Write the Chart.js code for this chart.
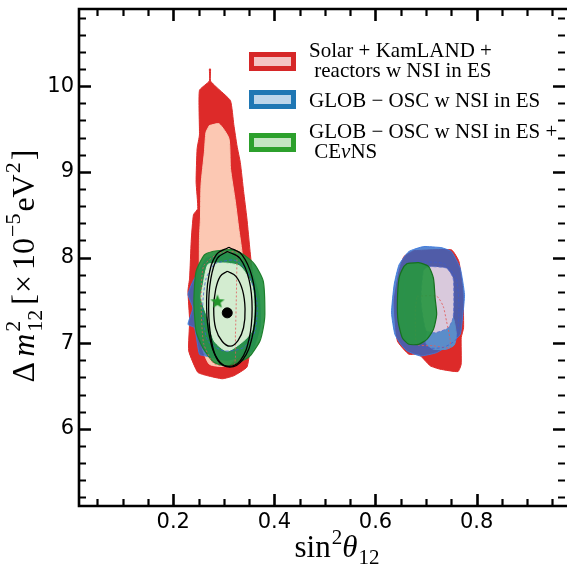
<!DOCTYPE html>
<html>
<head>
<meta charset="utf-8">
<script src="https://cdn.jsdelivr.net/npm/chart.js@4.4.0/dist/chart.umd.min.js"></script>
<style>
  html, body { margin: 0; padding: 0; background: #fff; }
  #wrap { width: 574px; height: 566px; }
</style>
</head>
<body>
<div id="wrap"><canvas id="c" width="574" height="566"></canvas></div>
<script>
// axis limits and ticks
const xRange = [0.0136, 0.9748];
const yRange = [5.1, 10.9];
const xMajorTicks = [0.2, 0.4, 0.6, 0.8];
const xMinorTicks = [0.05, 0.1, 0.15, 0.25, 0.3, 0.35, 0.45, 0.5, 0.55, 0.65, 0.7, 0.75, 0.85, 0.9, 0.95];
const yMajorTicks = [6, 7, 8, 9, 10];
const yMinorTicks = [5.2, 5.4, 5.6, 5.8, 6.2, 6.4, 6.6, 6.8, 7.2, 7.4, 7.6, 7.8, 8.2, 8.4, 8.6, 8.8,
                     9.2, 9.4, 9.6, 9.8, 10.2, 10.4, 10.6, 10.8];

// contours, [sin^2 theta12, dm2_12]
// left solution (LMA)
const redOuterL = [[0.2714,10.20],[0.2738,10.20],[0.2738,10.06],[0.2907,9.96],[0.3132,9.83],[0.3198,9.55],
  [0.3262,9.30],[0.3326,9.11],[0.3392,8.77],[0.3456,8.46],[0.3520,8.07],[0.3586,7.68],[0.3586,7.30],
  [0.3515,6.91],[0.3456,6.72],[0.3198,6.62],[0.2971,6.585],[0.2680,6.62],[0.2485,6.66],[0.2306,6.91],
  [0.2324,7.26],[0.2291,7.61],[0.2324,7.76],[0.2355,8.19],[0.2400,8.50],[0.2485,8.57],[0.2452,8.88],
  [0.2472,9.27],[0.2518,9.43],[0.2518,9.95],[0.2714,10.06],[0.2714,10.20]];
const pinkL = [[0.2713,9.54],[0.2907,9.56],[0.3101,9.39],[0.3132,9.04],[0.3229,8.65],[0.3295,8.34],
  [0.3359,8.07],[0.3420,7.70],[0.3480,7.30],[0.3420,6.95],[0.3068,6.736],[0.2713,6.755],[0.2550,7.00],
  [0.2518,7.50],[0.2518,8.22],[0.2538,8.46],[0.2550,8.85],[0.2616,9.23],[0.2647,9.46],[0.2713,9.54]];
const blueOuterL = [[0.2647,7.99],[0.3068,8.05],[0.3500,7.90],[0.3700,7.55],[0.3720,7.20],[0.3550,6.90],
  [0.3068,6.80],[0.2647,6.85],[0.2518,6.87],[0.2421,7.18],[0.2291,7.22],[0.2388,7.41],[0.2291,7.57],
  [0.2388,7.72],[0.2647,7.99]];
const greenOuterL = [[0.3004,8.089],[0.3198,8.089],[0.3392,8.031],[0.3617,7.915],[0.3781,7.722],
  [0.3812,7.34],[0.3781,7.18],[0.3715,7.026],[0.3520,6.851],[0.3359,6.793],[0.3068,6.736],[0.2810,6.774],
  [0.2583,6.948],[0.2452,7.142],[0.2408,7.49],[0.2452,7.838],[0.2616,8.031],[0.2777,8.07],[0.3004,8.089]];
const greenInnerL = [[0.2810,7.934],[0.3068,7.934],[0.3326,7.896],[0.3553,7.683],[0.3598,7.412],
  [0.3553,7.142],[0.3392,7.026],[0.3068,6.909],[0.2810,7.026],[0.2680,7.296],[0.2550,7.528],[0.2583,7.66],
  [0.2680,7.915],[0.2810,7.934]];
const redLineL = [[0.3262,8.07],[0.3250,7.60],[0.3230,7.10],[0.3200,6.74],[0.2810,6.76],[0.2600,7.00],
  [0.2550,7.50],[0.2600,7.90],[0.2900,8.05],[0.3262,8.07]];
const blueLineL = [[0.2810,7.93],[0.3198,7.97],[0.3450,7.85],[0.3650,7.50],[0.3617,7.14],[0.3392,6.95],
  [0.3004,6.91],[0.2680,7.03],[0.2583,7.40],[0.2647,7.75],[0.2810,7.93]];
// CEvNS-only contours (black)
const ellOuter = [[0.310,8.12],[0.336,8.03],[0.356,7.77],[0.363,7.42],[0.356,7.07],[0.338,6.81],[0.312,6.72],
  [0.288,6.81],[0.272,7.07],[0.266,7.42],[0.270,7.77],[0.285,8.03],[0.310,8.12]];
const ellMid = [[0.307,8.07],[0.332,7.99],[0.350,7.74],[0.356,7.40],[0.350,7.05],[0.333,6.80],[0.310,6.73],
  [0.288,6.80],[0.275,7.05],[0.270,7.40],[0.274,7.74],[0.287,7.99],[0.307,8.07]];
const ellInner = [[0.307,7.84],[0.324,7.78],[0.337,7.62],[0.342,7.40],[0.339,7.18],[0.328,7.03],[0.313,6.965],
  [0.297,7.02],[0.284,7.17],[0.280,7.40],[0.284,7.63],[0.293,7.78],[0.307,7.84]];
// right solution (dark side)
const redOuterR = [[0.6757,8.08],[0.7501,8.089],[0.7650,7.954],[0.7728,7.606],[0.7742,7.18],[0.7695,7.064],
  [0.7695,6.755],[0.7631,6.669],[0.7276,6.697],[0.7082,6.736],[0.6854,6.871],[0.6660,6.871],[0.6433,7.026],
  [0.6369,7.49],[0.6466,7.838],[0.6563,8.012],[0.6757,8.08]];
const blueOuterR = [[0.7307,8.116],[0.6951,8.128],[0.6660,8.070],[0.6466,7.915],[0.6369,7.683],[0.6317,7.354],
  [0.6383,7.103],[0.6499,6.987],[0.6627,6.909],[0.6887,6.851],[0.7210,6.890],[0.7470,6.987],[0.7676,7.103],
  [0.7728,7.335],[0.7761,7.567],[0.7676,7.876],[0.7501,8.070],[0.7307,8.116]];
const blueMidR = [[0.7049,7.20],[0.7437,7.18],[0.7534,7.30],[0.7600,7.10],[0.7560,6.98],[0.7404,6.93],
  [0.7146,6.93],[0.7000,7.00],[0.7049,7.20]];
const lavenderR = [[0.7049,7.896],[0.7404,7.876],[0.7534,7.760],[0.7548,7.509],[0.7534,7.296],[0.7437,7.180],
  [0.7179,7.122],[0.7000,7.15],[0.6900,7.50],[0.6950,7.85],[0.7049,7.896]];
const greenR = [[0.6627,7.93],[0.6854,7.94],[0.7049,7.896],[0.7146,7.760],[0.7179,7.528],[0.7210,7.335],
  [0.7146,7.161],[0.7016,7.045],[0.6854,6.987],[0.6660,6.987],[0.6530,7.064],[0.6447,7.258],[0.6433,7.49],
  [0.6466,7.760],[0.6563,7.896],[0.6627,7.93]];
const redLineR = [[0.6821,7.548],[0.7210,7.548],[0.7340,7.43],[0.7404,7.258],[0.7470,7.064],[0.7470,6.948],
  [0.7146,6.97],[0.6821,6.987],[0.6790,7.20],[0.6790,7.41],[0.6821,7.548]];
const blueLineR = [[0.6757,7.95],[0.7340,7.93],[0.7600,7.75],[0.7650,7.40],[0.7600,7.05],[0.7340,6.95],
  [0.6950,6.95],[0.6660,7.10],[0.6563,7.40],[0.6596,7.75],[0.6757,7.95]];
// best fit points
const bestFitCevns = [[0.3068, 7.354]];
const bestFitGlob = [[0.2874, 7.489]];

const legendLines = [
  ['Solar + KamLAND +', ' reactors w NSI in ES'],
  ['GLOB \u2212 OSC w NSI in ES'],
  ['GLOB \u2212 OSC w NSI in ES +', ' CE\u03bdNS']
];

const pts = arr => arr.map(([x, y]) => ({x, y}));

function area(data, fillColor, lineColor, width, tension, dash) {
  return {
    data: pts(data), backgroundColor: fillColor, borderColor: lineColor, borderWidth: width,
    fill: fillColor ? 'shape' : false, pointRadius: 0, tension: tension, borderDash: dash || [],
    borderJoinStyle: 'round'
  };
}

const starImg = document.createElement('canvas');
starImg.width = 16; starImg.height = 16;
(function () {
  const g = starImg.getContext('2d');
  g.beginPath();
  for (let i = 0; i < 10; i++) {
    const r = i % 2 ? 3.2 : 7.5, a = -Math.PI / 2 + i * Math.PI / 5;
    g.lineTo(8 + r * Math.cos(a), 8.5 + r * Math.sin(a));
  }
  g.closePath();
  g.fillStyle = '#22962a';
  g.fill();
})();

// bottom layer first
const layers = [
  area(redOuterL, '#dd2a29', '#dd2a29', 1, 0.15),
  area(pinkL, '#fcc8b3', '#fcc8b3', 1, 0.2),
  area(redOuterR, '#dd2a29', '#dd2a29', 1, 0.15),
  area(blueOuterL, 'rgba(45,105,200,0.8)', 'rgba(60,120,220,0.9)', 1, 0.15),
  area(blueOuterR, 'rgba(45,105,200,0.8)', 'rgba(60,120,220,0.9)', 1, 0.15),
  area(blueMidR, '#5b8dc9', '#5b8dc9', 1, 0.2),
  area(lavenderR, '#d9c9dc', 'rgba(90,110,210,0.8)', 1, 0.2, [3, 2]),
  area(redLineR, null, 'rgba(225,90,90,0.85)', 1, 0.2, [2, 2]),
  area(blueLineR, null, 'rgba(60,90,210,0.7)', 1, 0.2, [3, 2]),
  area(greenOuterL, 'rgba(35,145,65,0.92)', '#1d7f2c', 1.2, 0.2),
  area(greenR, 'rgba(40,150,65,0.92)', '#16701f', 1.2, 0.2),
  area(greenInnerL, '#d3ecd0', '#d3ecd0', 1, 0.25),
  area(redLineL, null, 'rgba(225,90,90,0.8)', 1, 0.2, [2, 2]),
  area(blueLineL, null, 'rgba(60,90,220,0.75)', 1, 0.25, [3, 2]),
  area(ellOuter, null, '#000', 1.3, 0.4),
  area(ellMid, null, '#000', 1.3, 0.4),
  area(ellInner, null, '#000', 1.3, 0.4),
  {data: pts(bestFitCevns), pointRadius: 5, pointBackgroundColor: '#000', pointBorderColor: '#000',
   showLine: false},
  {data: pts(bestFitGlob), pointStyle: starImg, pointRadius: 8, showLine: false}
];
layers.forEach((d, i) => { d.order = layers.length - i; });

function drawRuns(ctx, runs, x, y) {
  let cx = x, stackW = 0;
  runs.forEach(r => {
    ctx.font = r.f;
    ctx.fillText(r.t, cx, y + (r.dy || 0));
    const w = ctx.measureText(r.t).width;
    if (r.stack) { stackW = w; return; }
    cx += Math.max(w, stackW) + (r.sp || 0);
    stackW = 0;
  });
  return cx - x;
}
function runsWidth(ctx, runs) {
  let w = 0, stackW = 0;
  runs.forEach(r => {
    ctx.font = r.f;
    const m = ctx.measureText(r.t).width;
    if (r.stack) { stackW = m; return; }
    w += Math.max(m, stackW) + (r.sp || 0);
    stackW = 0;
  });
  return w;
}

const SERIF = '"Liberation Serif", serif';
const yBig = '32px ' + SERIF, yIt = 'italic 32px ' + SERIF, ySmall = '22px ' + SERIF;
const xBig = '31px ' + SERIF, xIt = 'italic 31px ' + SERIF, xSmall = '21px ' + SERIF;
const yTitle = [
  {t: '\u0394', f: yBig, sp: 5}, {t: 'm', f: yIt, sp: 2},
  {t: '2', f: ySmall, dy: -14, stack: true}, {t: '12', f: ySmall, dy: 8, sp: 5},
  {t: '[', f: yBig, sp: 1}, {t: '\u00d7', f: yBig, sp: 5}, {t: '10', f: yBig, sp: 1},
  {t: '\u22125', f: ySmall, dy: -14, sp: 2},
  {t: 'eV', f: yBig, sp: 1}, {t: '2', f: ySmall, dy: -14, sp: 2}, {t: ']', f: yBig}
];
const xTitle = [
  {t: 'sin', f: xBig, sp: 1}, {t: '2', f: xSmall, dy: -13},
  {t: '\u03b8', f: xIt, sp: 1}, {t: '12', f: xSmall, dy: 7}
];

const legendStyle = [
  {edge: '#d62728', face: '#f4c4c4'},
  {edge: '#1f77b4', face: '#bcd5ea'},
  {edge: '#2ca02c', face: '#c4e5c2'}
];

const decor = {
  id: 'decor',
  afterDatasetsDraw(chart) {
    const {ctx, chartArea: a, scales: {x, y}} = chart;
    ctx.save();
    ctx.strokeStyle = '#000';
    ctx.lineCap = 'butt';
    const xt = (vals, len, w) => {
      ctx.lineWidth = w;
      ctx.beginPath();
      vals.forEach(v => {
        const p = Math.round(x.getPixelForValue(v)) + 0.5;
        ctx.moveTo(p, a.bottom); ctx.lineTo(p, a.bottom - len);
        ctx.moveTo(p, a.top); ctx.lineTo(p, a.top + len);
      });
      ctx.stroke();
    };
    const yt = (vals, len, w) => {
      ctx.lineWidth = w;
      ctx.beginPath();
      vals.forEach(v => {
        const p = Math.round(y.getPixelForValue(v)) + 0.5;
        ctx.moveTo(a.left, p); ctx.lineTo(a.left + len, p);
        ctx.moveTo(a.right, p); ctx.lineTo(a.right - len, p);
      });
      ctx.stroke();
    };
    xt(xMajorTicks, 12, 2.6); xt(xMinorTicks, 7, 2.2);
    yt(yMajorTicks, 12, 2.6); yt(yMinorTicks, 7, 2.2);
    // spines: the right one sits on the canvas edge and is cut off
    ctx.lineWidth = 2.6;
    ctx.beginPath();
    ctx.moveTo(a.right + 2, a.top); ctx.lineTo(a.left, a.top);
    ctx.lineTo(a.left, a.bottom); ctx.lineTo(a.right + 2, a.bottom);
    ctx.stroke();
    ctx.restore();
  },
  afterDraw(chart) {
    const {ctx, chartArea: a} = chart;
    ctx.save();
    ctx.fillStyle = '#000';
    ctx.textBaseline = 'alphabetic';
    ctx.textAlign = 'left';
    // x title
    const xw = runsWidth(ctx, xTitle);
    drawRuns(ctx, xTitle, (a.left + a.right) / 2 - xw / 2 + 15, 557);
    // y title
    const yw = runsWidth(ctx, yTitle);
    ctx.save();
    ctx.translate(34, 266 + yw / 2);
    ctx.rotate(-Math.PI / 2);
    drawRuns(ctx, yTitle, 0, 0);
    ctx.restore();
    // legend
    const boxes = [52, 90, 133];
    const bases = [[57, 77], [107], [138, 158]];
    legendLines.forEach((lines, i) => {
      const s = legendStyle[i];
      ctx.fillStyle = s.face;
      ctx.fillRect(251, boxes[i] + 2, 43, 15);
      ctx.strokeStyle = s.edge;
      ctx.lineWidth = 5;
      ctx.strokeRect(251.5, boxes[i] + 2.5, 42, 14);
      ctx.fillStyle = '#000';
      lines.forEach((t, j) => {
        const runs = t.includes('\u03bd')
          ? [{t: ' CE', f: '21px ' + SERIF}, {t: '\u03bd', f: 'italic 21px ' + SERIF}, {t: 'NS', f: '21px ' + SERIF}]
          : [{t: t, f: '21px ' + SERIF}];
        drawRuns(ctx, runs, 309, bases[i][j]);
      });
    });
    ctx.restore();
  }
};

new Chart(document.getElementById('c'), {
  type: 'line',
  data: {datasets: layers},
  options: {
    responsive: false,
    animation: false,
    devicePixelRatio: 1,
    layout: {padding: {left: 0, right: 0, top: 6, bottom: 0}},
    plugins: {legend: {display: false}, tooltip: {enabled: false}},
    scales: {
      x: {
        type: 'linear', min: xRange[0], max: xRange[1],
        afterFit: s => { s.height = 60; s.paddingLeft = 0; s.paddingRight = 0; },
        grid: {display: false, drawTicks: false},
        border: {display: false},
        ticks: {stepSize: 0.2, includeBounds: false, padding: 4, color: '#000',
                font: {family: 'DejaVu Sans', size: 21}, maxRotation: 0,
                callback: v => v.toFixed(1)}
      },
      y: {
        type: 'linear', min: yRange[0], max: yRange[1],
        afterFit: s => { s.width = 79; s.paddingTop = 0; s.paddingBottom = 0; },
        grid: {display: false, drawTicks: false},
        border: {display: false},
        ticks: {stepSize: 1, includeBounds: false, padding: 5, color: '#000',
                font: {family: 'DejaVu Sans', size: 21},
                callback: v => String(v)}
      }
    }
  },
  plugins: [decor]
});
</script>
</body>
</html>
